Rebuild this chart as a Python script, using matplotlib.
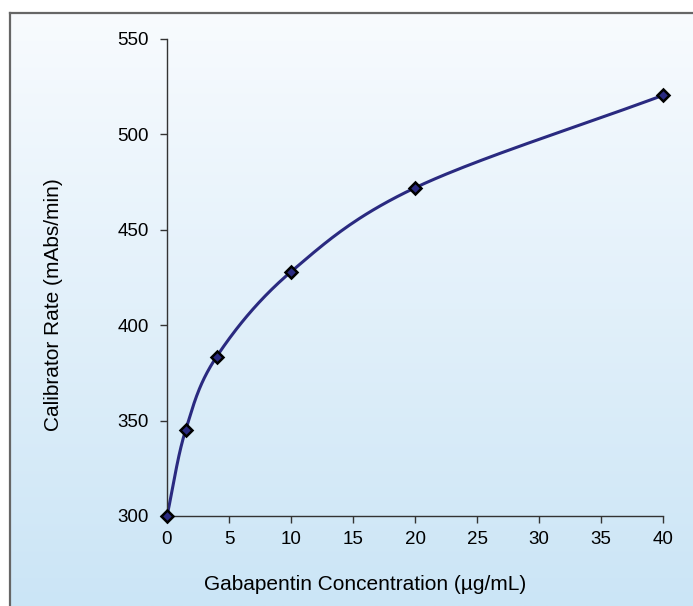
import numpy as np
import matplotlib
matplotlib.use('Agg')
import matplotlib.pyplot as plt
from matplotlib.colors import LinearSegmentedColormap

plt.rcParams['font.family'] = ['Liberation Sans', 'DejaVu Sans']

# data
conc = [0, 1.5, 4, 10, 20, 40]
rate = [300, 345, 383.5, 428, 472, 520.5]
xticks = [0, 5, 10, 15, 20, 25, 30, 35, 40]
yticks = [300, 350, 400, 450, 500, 550]


def smooth(xs, ys, n=40):
    # catmull-rom style smoothing, like a spreadsheet "smoothed line"
    xs = np.asarray(xs, float)
    ys = np.asarray(ys, float)
    px = np.concatenate([[2 * xs[0] - xs[1]], xs, [2 * xs[-1] - xs[-2]]])
    py = np.concatenate([[2 * ys[0] - ys[1]], ys, [2 * ys[-1] - ys[-2]]])
    ox, oy = [], []
    for i in range(1, len(px) - 2):
        t = np.linspace(0, 1, n)
        for p, out in ((px, ox), (py, oy)):
            p0, p1, p2, p3 = p[i - 1], p[i], p[i + 1], p[i + 2]
            m1 = (p2 - p0) / 6.0
            m2 = (p3 - p1) / 6.0
            b1 = p1 + m1
            b2 = p2 - m2
            out.extend((1 - t) ** 3 * p1 + 3 * (1 - t) ** 2 * t * b1
                       + 3 * (1 - t) * t ** 2 * b2 + t ** 3 * p2)
    return np.array(ox), np.array(oy)


fig = plt.figure(figsize=(6.93, 6.06), dpi=100)

# gradient background with a border on the top/left
bg = fig.add_axes([10 / 693, 0, 1 - 10 / 693, 1 - 13 / 606])
cmap = LinearSegmentedColormap.from_list('bg', ['#f8fbfe', '#cbe5f6'])
bg.imshow(np.linspace(0, 1, 256).reshape(-1, 1), aspect='auto', cmap=cmap,
          extent=[0, 1, 0, 1])
bg.set_xticks([])
bg.set_yticks([])
for s in ['right', 'bottom']:
    bg.spines[s].set_visible(False)
for s in ['left', 'top']:
    bg.spines[s].set_color('#666666')
    bg.spines[s].set_linewidth(1.6)

ax = fig.add_axes([167 / 693, 90 / 606, 496 / 693, 477 / 606])
ax.patch.set_alpha(0)
sx, sy = smooth(conc, rate)
ax.plot(sx, sy, color='#2a2a80', lw=2.2, zorder=2, clip_on=False)
ax.plot(conc, rate, ls='none', marker='D', ms=6, mfc='#2a2a80', mec='black',
        mew=1.8, zorder=3, clip_on=False)

ax.set_xlim(0, 40)
ax.set_ylim(300, 550)
ax.set_xticks(xticks)
ax.set_yticks(yticks)
for s in ['top', 'right']:
    ax.spines[s].set_visible(False)
for s in ['left', 'bottom']:
    ax.spines[s].set_color('#333333')
    ax.spines[s].set_linewidth(1.0)
ax.tick_params(direction='out', length=5, width=1, color='#333333',
               labelsize=13.5)
ax.tick_params(axis='x', pad=6)
ax.tick_params(axis='y', pad=8)

fig.text(365 / 693, 1 - 585 / 606, 'Gabapentin Concentration (µg/mL)',
         fontsize=15, ha='center', va='center')
fig.text(54 / 693, 1 - 305 / 606, 'Calibrator Rate (mAbs/min)',
         fontsize=15, ha='center', va='center', rotation=90)

fig.savefig('out.png', dpi=100)
